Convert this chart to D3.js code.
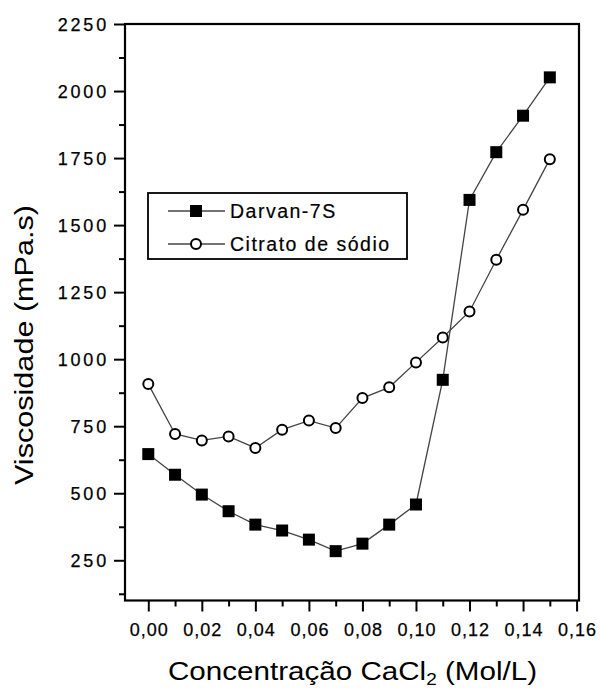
<!DOCTYPE html>
<html>
<head>
<meta charset="utf-8">
<script src="https://cdn.jsdelivr.net/npm/d3@7"></script>
<style>
  html, body { margin: 0; padding: 0; background: #fff; }
  svg { display: block; font-family: "Liberation Sans", Arial, Helvetica, sans-serif; }
</style>
</head>
<body>
<div id="chart"></div>
<script>
// ---- data ----
const concentrations = [0.00, 0.01, 0.02, 0.03, 0.04, 0.05, 0.06, 0.07, 0.08, 0.09, 0.10, 0.11, 0.12, 0.13, 0.14, 0.15];
const darvan = [646, 569, 495, 433, 383, 361, 327, 284, 312, 383, 458, 923, 1594, 1772, 1908, 2051];
const citrato = [907, 721, 697, 712, 669, 737, 771, 743, 855, 895, 988, 1081, 1178, 1371, 1557, 1746];
const seriesNames = ["Darvan-7S", "Citrato de sódio"];
const xMajorTicks = [0.00, 0.02, 0.04, 0.06, 0.08, 0.10, 0.12, 0.14, 0.16];
const xMinorTicks = [0.01, 0.03, 0.05, 0.07, 0.09, 0.11, 0.13, 0.15];
const yMajorTicks = [250, 500, 750, 1000, 1250, 1500, 1750, 2000, 2250];
const yMinorTicks = [125, 375, 625, 875, 1125, 1375, 1625, 1875, 2125];
const yTitle = "Viscosidade (mPa.s)";

// ---- layout ----
const W = 601, H = 689;
const mLeft = 125, mRight = 579, mTop = 24, mBottom = 600.5;

const svg = d3.select("#chart").append("svg").attr("width", W).attr("height", H);

const x = d3.scaleLinear().domain([-0.0087, 0.1609]).range([mLeft, mRight]);
const y = d3.scaleLinear().domain([100, 2250]).range([mBottom, mTop]);

// axes ticks
const fmt = d => d3.format(".2f")(d).replace(".", ",");

const xAxis = svg.append("g").attr("transform", `translate(0,${mBottom})`)
  .call(d3.axisBottom(x).tickValues(xMajorTicks).tickSize(11).tickPadding(12).tickFormat(fmt));
xAxis.select(".domain").remove();
xAxis.selectAll("line").attr("stroke", "#000").attr("stroke-width", 2);
xAxis.selectAll("text").attr("font-size", 18).attr("fill", "#000")
  .attr("stroke", "#000").attr("stroke-width", 0.25)
  .style("letter-spacing", "1px").attr("dx", "0.5");

const xMinor = svg.append("g").attr("transform", `translate(0,${mBottom})`)
  .call(d3.axisBottom(x).tickValues(xMinorTicks).tickSize(6).tickFormat(""));
xMinor.select(".domain").remove();
xMinor.selectAll("line").attr("stroke", "#000").attr("stroke-width", 2);

const yAxis = svg.append("g").attr("transform", `translate(${mLeft},0)`)
  .call(d3.axisLeft(y).tickValues(yMajorTicks).tickSize(11).tickPadding(6).tickFormat(d3.format("d")));
yAxis.select(".domain").remove();
yAxis.selectAll("line").attr("stroke", "#000").attr("stroke-width", 2);
yAxis.selectAll("text").attr("font-size", 18).attr("fill", "#000")
  .attr("stroke", "#000").attr("stroke-width", 0.25)
  .style("letter-spacing", "2.8px").attr("dx", "1").attr("dy", "0.36em");

const yMinor = svg.append("g").attr("transform", `translate(${mLeft},0)`)
  .call(d3.axisLeft(y).tickValues(yMinorTicks).tickSize(6).tickFormat(""));
yMinor.select(".domain").remove();
yMinor.selectAll("line").attr("stroke", "#000").attr("stroke-width", 2);

// frame
svg.append("rect")
  .attr("x", mLeft).attr("y", mTop)
  .attr("width", mRight - mLeft).attr("height", mBottom - mTop)
  .attr("fill", "none").attr("stroke", "#000").attr("stroke-width", 2.2);

// series
const line = d3.line().x((d, i) => x(concentrations[i])).y(d => y(d));

svg.append("path").datum(darvan).attr("d", line)
  .attr("fill", "none").attr("stroke", "#444").attr("stroke-width", 1.3);
svg.append("path").datum(citrato).attr("d", line)
  .attr("fill", "none").attr("stroke", "#444").attr("stroke-width", 1.3);

const sq = 12;
svg.append("g").selectAll("rect").data(darvan).join("rect")
  .attr("x", (d, i) => x(concentrations[i]) - sq / 2)
  .attr("y", d => y(d) - sq / 2)
  .attr("width", sq).attr("height", sq)
  .attr("fill", "#000");

svg.append("g").selectAll("circle").data(citrato).join("circle")
  .attr("cx", (d, i) => x(concentrations[i]))
  .attr("cy", d => y(d))
  .attr("r", 5)
  .attr("fill", "#fff").attr("stroke", "#000").attr("stroke-width", 2);

// legend
const lg = svg.append("g");
lg.append("rect").attr("x", 148).attr("y", 193).attr("width", 259).attr("height", 66)
  .attr("fill", "#fff").attr("stroke", "#000").attr("stroke-width", 1.8);
const rows = [211, 244];
rows.forEach((ry, k) => {
  lg.append("line").attr("x1", 168).attr("x2", 225).attr("y1", ry).attr("y2", ry)
    .attr("stroke", "#444").attr("stroke-width", 1.3);
  if (k === 0) {
    lg.append("rect").attr("x", 196 - sq / 2).attr("y", ry - sq / 2).attr("width", sq).attr("height", sq).attr("fill", "#000");
  } else {
    lg.append("circle").attr("cx", 196).attr("cy", ry).attr("r", 5)
      .attr("fill", "#fff").attr("stroke", "#000").attr("stroke-width", 2);
  }
  lg.append("text").attr("x", 230).attr("y", ry + 7).attr("font-size", 19.5).attr("fill", "#000")
    .attr("stroke", "#000").attr("stroke-width", 0.2)
    .style("letter-spacing", "1.5px").text(seriesNames[k]);
});

// axis titles
svg.append("text")
  .attr("transform", `translate(33,345) rotate(-90)`)
  .attr("text-anchor", "middle")
  .attr("font-size", 26).attr("fill", "#000")
  .attr("textLength", 280).attr("lengthAdjust", "spacingAndGlyphs")
  .text(yTitle);

const xt = svg.append("text")
  .attr("x", 168).attr("y", 680)
  .attr("font-size", 25).attr("fill", "#000")
  .attr("textLength", 369).attr("lengthAdjust", "spacingAndGlyphs");
xt.append("tspan").text("Concentração CaCl");
xt.append("tspan").attr("font-size", 16).attr("dy", 5).text("2");
xt.append("tspan").attr("dy", -5).text(" (Mol/L)");
</script>
</body>
</html>
